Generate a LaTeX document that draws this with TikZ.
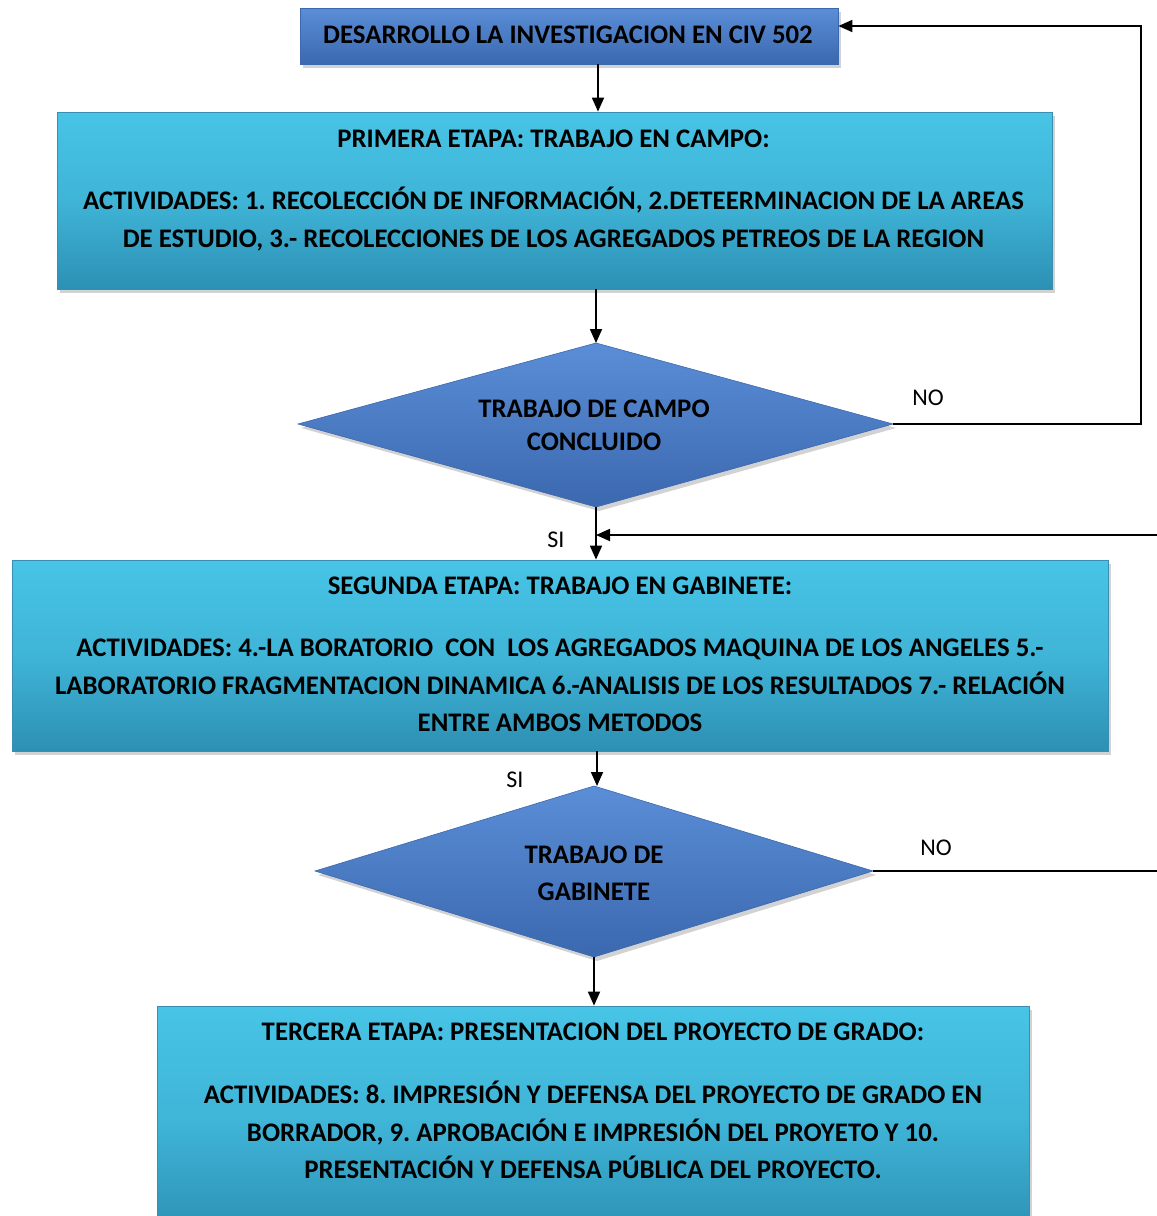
\documentclass[tikz,border=0pt]{standalone}
\usepackage{fontspec}
\setmainfont{Carlito}
\usetikzlibrary{arrows.meta,shadows}
\definecolor{cyT}{HTML}{47C4E6}
\definecolor{cyB}{HTML}{2C90B4}
\definecolor{blT}{HTML}{5A8ED7}
\definecolor{blB}{HTML}{3B68AF}
\definecolor{edgeC}{HTML}{3A8FB0}
\tikzset{
  cbox/.style={rectangle, draw=edgeC, line width=0.8pt, top color=cyT, bottom color=cyB, middle color=cyT!70!cyB,
     drop shadow={shadow xshift=3pt, shadow yshift=-4pt, opacity=0.35}, inner sep=0pt},
  bbox/.style={rectangle, draw=blB, line width=0.8pt, top color=blT, bottom color=blB,
     drop shadow={shadow xshift=3pt, shadow yshift=-4pt, opacity=0.35}, inner sep=0pt},
  dia/.style={draw=blB, line width=0.6pt, top color=blT, bottom color=blB,
     drop shadow={shadow xshift=3pt, shadow yshift=-4pt, opacity=0.35}},
  txt/.style={anchor=base, inner sep=0pt, font=\fontsize{26.8}{38}\selectfont\bfseries\frenchspacing},
  lbl/.style={anchor=base, inner sep=0pt, font=\fontsize{24}{30}\selectfont},
  arr/.style={line width=1.8pt, -{Triangle[length=14pt,width=12pt]}},
  ln/.style={line width=1.8pt}
}
\begin{document}
\begin{tikzpicture}[x=1pt,y=-1pt]
\useasboundingbox (0,0) rectangle (1157,1216);
\clip (0,0) rectangle (1157,1216);
\fill[white] (0,0) rectangle (1157,1216);

% boxes
\node[bbox, minimum width=538pt, minimum height=56pt] (b1) at (569,36) {};
\node[cbox, minimum width=995pt, minimum height=177pt] (b2) at (554.5,200.5) {};
\node[cbox, minimum width=1096pt, minimum height=191pt] (b3) at (560,655.5) {};
\node[cbox, minimum width=872pt, minimum height=230pt] (b4) at (593,1121) {};

% diamonds
\coordinate (d1n) at (596,343);
\coordinate (d1e) at (893,424);
\coordinate (d1s) at (596,507);
\coordinate (d1w) at (298,424);
\path[dia] (d1n) -- (d1e) -- (d1s) -- (d1w) -- cycle;
\coordinate (d2n) at (594,786);
\coordinate (d2e) at (873,871);
\coordinate (d2s) at (594,957);
\coordinate (d2w) at (315,871);
\path[dia] (d2n) -- (d2e) -- (d2s) -- (d2w) -- cycle;

% texts
\node[txt] (t1) at (568,43) {DESARROLLO LA INVESTIGACION EN CIV 502};
\node[txt] (t2a) at (553.5,147) {PRIMERA ETAPA: TRABAJO EN CAMPO:};
\node[txt] (t2b) at (553.5,209) {ACTIVIDADES: 1. RECOLECCIÓN DE INFORMACIÓN, 2.DETEERMINACION DE LA AREAS};
\node[txt] (t2c) at (553.5,247) {DE ESTUDIO, 3.- RECOLECCIONES DE LOS AGREGADOS PETREOS DE LA REGION};
\node[txt] (t3a) at (594,417) {TRABAJO DE CAMPO};
\node[txt] (t3b) at (594,450) {CONCLUIDO};
\node[txt] (t4a) at (560,594) {SEGUNDA ETAPA: TRABAJO EN GABINETE:};
\node[txt] (t4b) at (560,656) {ACTIVIDADES: 4.-LA BORATORIO\ \ CON\ \ LOS AGREGADOS MAQUINA DE LOS ANGELES 5.-};
\node[txt] (t4c) at (560,694) {LABORATORIO FRAGMENTACION DINAMICA 6.-ANALISIS DE LOS RESULTADOS 7.- RELACIÓN};
\node[txt] (t4d) at (560,731) {ENTRE AMBOS METODOS};
\node[txt] (t5a) at (594,863) {TRABAJO DE};
\node[txt] (t5b) at (594,900) {GABINETE};
\node[txt] (t6a) at (593,1040) {TERCERA ETAPA: PRESENTACION DEL PROYECTO DE GRADO:};
\node[txt] (t6b) at (593,1103) {ACTIVIDADES: 8. IMPRESIÓN Y DEFENSA DEL PROYECTO DE GRADO EN};
\node[txt] (t6c) at (593,1141) {BORRADOR, 9. APROBACIÓN E IMPRESIÓN DEL PROYETO Y 10.};
\node[txt] (t6d) at (593,1178) {PRESENTACIÓN Y DEFENSA PÚBLICA DEL PROYECTO.};

% labels
\node[lbl] (no1) at (928,405) {NO};
\node[lbl] (no2) at (936,855) {NO};
\node[lbl] (si1) at (556,547) {SI};
\node[lbl] (si2) at (515,787) {SI};

% connectors
\coordinate (c1) at (598,0);
\coordinate (rtop) at (1141,26);
\coordinate (inR) at (1157,535);
\coordinate (outR) at (1157,871);
\draw[arr] (b1.south -| c1) -- (b2.north -| c1);
\draw[arr] (b2.south -| d1n) -- (d1n);
\draw[arr] (d1e) -- (d1e -| rtop) -- (rtop) -- (b1.east |- rtop);
\draw[arr] (d1s) -- (b3.north -| d1s);
\draw[arr] (inR) -- (d1s |- inR);
\draw[arr] (b3.south -| 597,0) -- (d2n -| 597,0);
\draw[ln] (d2e) -- (outR);
\draw[arr] (d2s) -- (b4.north -| d2s);
\end{tikzpicture}
\end{document}
